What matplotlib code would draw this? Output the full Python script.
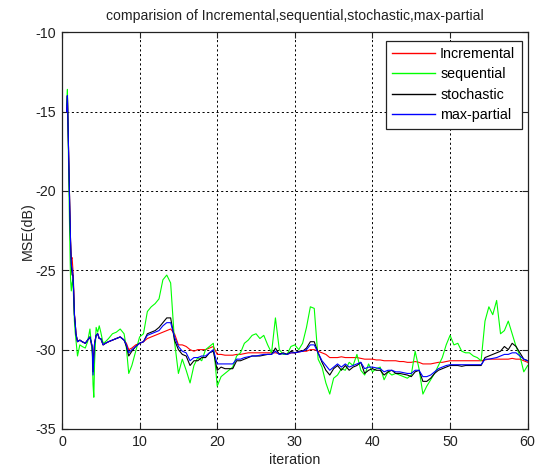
import matplotlib
matplotlib.use("Agg")
import matplotlib.pyplot as plt

plt.rcParams['font.family'] = ['Liberation Sans', 'DejaVu Sans']
plt.rcParams['axes.unicode_minus'] = False

x_early = [0.6, 0.7, 0.8, 0.9, 1.0, 1.1, 1.2, 1.3, 1.4, 1.5, 1.6, 1.7, 1.8, 2.0, 2.3, 2.6,
           3.0, 3.3, 3.6, 3.9, 4.0, 4.1, 4.2, 4.4, 4.6, 4.8, 5.0, 5.3, 5.6, 6.0, 6.5, 7.0,
           7.5, 8.0, 8.3, 8.6, 9.0, 9.5]
x_late = [10.0, 10.5, 11.0, 11.5, 12.0, 12.5, 13.0, 13.5, 14.0, 14.5, 15.0, 15.5, 16.0, 16.5,
          17.0, 17.5, 18.0, 18.5, 19.0, 19.5, 20.0, 20.5, 21.0, 21.5, 22.0, 22.5, 23.0, 23.5,
          24.0, 24.5, 25.0, 25.5, 26.0, 26.5, 27.0, 27.5, 28.0, 28.5, 29.0, 29.5, 30.0, 30.5,
          31.0, 31.5, 32.0, 32.5, 33.0, 33.5, 34.0, 34.5, 35.0, 35.5, 36.0, 36.5, 37.0, 37.5,
          38.0, 38.5, 39.0, 39.5, 40.0, 40.5, 41.0, 41.5, 42.0, 42.5, 43.0, 43.5, 44.0, 44.5,
          45.0, 45.5, 46.0, 46.5, 47.0, 47.5, 48.0, 48.5, 49.0, 49.5, 50.0, 50.5, 51.0, 51.5,
          52.0, 52.5, 53.0, 53.5, 54.0, 54.5, 55.0, 55.5, 56.0, 56.5, 57.0, 57.5, 58.0, 58.5,
          59.0, 59.5, 60.0]
iteration = x_early + x_late

incremental = [
    -15.0, -14.0, -16.4, -18.5, -21.0, -23.1, -24.3, -24.2, -24.9, -26.0, -27.7, -28.3, -29.0,
    -29.5, -29.4, -29.5, -29.6, -29.4, -29.2, -30.0, -30.6, -30.2, -29.6, -29.1, -29.0, -29.3,
    -29.3, -29.7, -29.6, -29.5, -29.4, -29.3, -29.2, -29.4, -29.6, -30.0, -29.9, -29.7,
    -29.6, -29.5, -29.3, -29.2, -29.1, -29.0, -28.9, -28.8, -28.7, -29.0, -29.7, -29.7, -29.8,
    -30.0, -30.1, -30.0, -30.0, -30.0, -29.9, -29.8, -30.3, -30.3, -30.35, -30.35, -30.35, -30.3,
    -30.3, -30.25, -30.2, -30.2, -30.2, -30.2, -30.2, -30.2, -30.2, -30.2, -30.25, -30.25, -30.3,
    -30.2, -30.2, -30.15, -30.1, -30.1, -30.0, -30.0, -30.1, -30.2, -30.3, -30.5, -30.5, -30.5,
    -30.45, -30.5, -30.5, -30.5, -30.5, -30.55, -30.6, -30.6, -30.6, -30.65, -30.65, -30.7,
    -30.7, -30.7, -30.7, -30.75, -30.75, -30.8, -30.8, -30.75, -30.8, -30.9, -30.9, -30.9,
    -30.85, -30.8, -30.8, -30.75, -30.7, -30.7, -30.7, -30.7, -30.7, -30.7, -30.7, -30.7, -30.7,
    -30.65, -30.6, -30.6, -30.6, -30.6, -30.6, -30.6, -30.55, -30.6, -30.6, -30.7, -30.8]

sequential = [
    -14.6, -13.6, -17.0, -20.0, -23.0, -25.5, -26.3, -25.8, -25.6, -26.8, -28.2, -28.9, -29.4,
    -30.4, -29.7, -29.8, -29.9, -29.5, -28.7, -30.2, -32.2, -33.0, -30.8, -28.6, -28.9, -28.5,
    -28.9, -29.6, -29.5, -29.3, -29.0, -28.9, -28.7, -29.0, -29.9, -31.5, -31.0, -30.1,
    -29.2, -29.0, -27.6, -27.3, -27.1, -26.8, -25.6, -25.3, -25.8, -29.5, -31.5, -30.6, -31.3,
    -32.1, -31.0, -30.5, -30.7, -30.0, -29.8, -29.6, -32.3, -31.7, -31.5, -31.3, -31.1, -30.4,
    -30.2, -29.6, -29.4, -29.1, -29.0, -29.3, -29.1, -29.7, -30.2, -28.0, -30.0, -30.3, -30.3,
    -29.8, -29.7, -30.0, -29.6, -28.6, -27.3, -27.4, -30.6, -31.1, -32.1, -32.8, -31.8, -31.6,
    -31.2, -31.3, -30.8, -31.0, -30.3, -31.3, -31.6, -30.9, -31.4, -31.2, -31.1, -31.9, -31.4,
    -31.6, -31.5, -31.6, -31.7, -31.8, -31.6, -30.1, -31.2, -32.8, -32.3, -31.9, -31.5, -31.0,
    -30.5, -29.7, -29.1, -29.7, -29.6, -30.1, -30.2, -30.2, -30.4, -30.5, -30.7, -28.2, -27.3,
    -27.8, -26.9, -29.0, -28.8, -28.2, -29.0, -29.8, -30.4, -31.4, -31.0]

stochastic = [
    -15.0, -14.0, -16.4, -18.5, -21.0, -23.1, -24.7, -25.3, -25.3, -26.3, -27.8, -28.3, -29.0,
    -29.5, -29.4, -29.5, -29.6, -29.4, -29.2, -29.8, -31.4, -30.5, -29.6, -29.1, -29.0, -29.3,
    -29.3, -29.7, -29.6, -29.5, -29.4, -29.3, -29.2, -29.4, -29.8, -30.4, -30.1, -29.8,
    -29.6, -29.5, -29.0, -28.9, -28.8, -28.6, -28.3, -28.0, -28.0, -29.4, -30.0, -30.3, -30.4,
    -31.0, -30.7, -30.7, -30.5, -30.5, -30.2, -30.1, -31.3, -31.1, -31.2, -31.2, -31.2, -30.7,
    -30.7, -30.6, -30.5, -30.4, -30.4, -30.4, -30.35, -30.3, -30.3, -29.9, -30.3, -30.2, -30.3,
    -30.1, -30.2, -30.1, -30.1, -29.9, -29.5, -29.5, -30.2, -30.8, -31.3, -31.6, -31.2, -31.0,
    -31.3, -31.0, -31.3, -31.1, -31.0, -30.8, -31.5, -31.3, -31.2, -31.3, -31.3, -31.6, -31.4,
    -31.3, -31.5, -31.5, -31.55, -31.6, -31.7, -31.4, -31.3, -32.0, -32.0, -31.8, -31.5, -31.3,
    -31.2, -31.1, -31.0, -31.0, -31.0, -31.05, -31.0, -31.0, -31.0, -31.0, -31.0, -30.5, -30.4,
    -30.3, -30.2, -30.1, -29.8, -30.0, -29.6, -29.8, -30.2, -30.6, -30.7]

max_partial = [
    -15.0, -14.0, -16.4, -18.5, -21.0, -23.1, -24.6, -24.9, -25.2, -26.2, -27.8, -28.3, -29.0,
    -29.5, -29.4, -29.5, -29.6, -29.4, -29.2, -29.8, -31.6, -30.4, -29.6, -29.1, -29.0, -29.3,
    -29.3, -29.7, -29.6, -29.5, -29.4, -29.3, -29.2, -29.4, -29.7, -30.2, -30.0, -29.8,
    -29.6, -29.5, -29.1, -29.0, -28.9, -28.8, -28.5, -28.3, -28.3, -29.2, -29.8, -30.1, -30.2,
    -30.7, -30.5, -30.5, -30.4, -30.4, -30.2, -30.0, -30.9, -30.9, -30.9, -30.9, -30.9, -30.6,
    -30.6, -30.5, -30.45, -30.4, -30.4, -30.35, -30.3, -30.3, -30.3, -30.1, -30.3, -30.25, -30.3,
    -30.2, -30.2, -30.15, -30.1, -30.0, -29.7, -29.7, -30.2, -30.7, -31.0, -31.3, -31.1, -30.9,
    -31.1, -30.9, -31.1, -31.0, -30.9, -30.8, -31.2, -31.1, -31.1, -31.15, -31.2, -31.4, -31.3,
    -31.3, -31.4, -31.4, -31.45, -31.5, -31.5, -31.3, -31.3, -31.7, -31.7, -31.6, -31.4, -31.2,
    -31.1, -31.0, -30.95, -30.95, -30.95, -30.95, -30.95, -30.95, -30.95, -30.95, -30.95, -30.6,
    -30.6, -30.55, -30.5, -30.4, -30.3, -30.3, -30.2, -30.2, -30.4, -30.6, -30.7]

series_names = ['Incremental', 'sequential', 'stochastic', 'max-partial']
series_values = [incremental, sequential, stochastic, max_partial]
series_colors = ['#ff0000', '#00ff00', '#000000', '#0000ff']

x_ticks = [0, 10, 20, 30, 40, 50, 60]
y_ticks = [-35, -30, -25, -20, -15, -10]

fig = plt.figure(figsize=(5.39, 4.69), dpi=100)
ax = fig.add_axes([0.115, 0.0853, 0.864, 0.846])

for name, vals, col in zip(series_names, series_values, series_colors):
    ax.plot(iteration, vals, color=col, lw=0.8, label=name)

ax.set_xlim(0, 60)
ax.set_ylim(-35, -10)
ax.set_xticks(x_ticks)
ax.set_yticks(y_ticks)
ax.grid(True, color='k', linestyle=(0, (2.2, 2.6)), lw=0.7)
ax.tick_params(direction='in', top=True, right=True, length=4, width=0.8,
               labelsize=10.3, pad=4, colors='#222222')
for s in ax.spines.values():
    s.set_linewidth(0.9)
    s.set_color('#222222')

ax.set_title('comparision of Incremental,sequential,stochastic,max-partial',
             fontsize=10.1, pad=9, color='#222222')
ax.set_xlabel('iteration', fontsize=10.3, labelpad=3, color='#222222')
ax.set_ylabel('MSE(dB)', fontsize=10.3, labelpad=1, color='#222222')

leg = ax.legend(loc='upper right', bbox_to_anchor=(0.987, 0.979), fontsize=10.3,
                handlelength=3.0, handletextpad=0.35, labelspacing=0.45,
                borderpad=0.45, fancybox=False, framealpha=1, edgecolor='#222222',
                borderaxespad=0)
leg.get_frame().set_linewidth(0.9)
for line in leg.get_lines():
    line.set_linewidth(1.0)

fig.savefig('out.png', dpi=100)
